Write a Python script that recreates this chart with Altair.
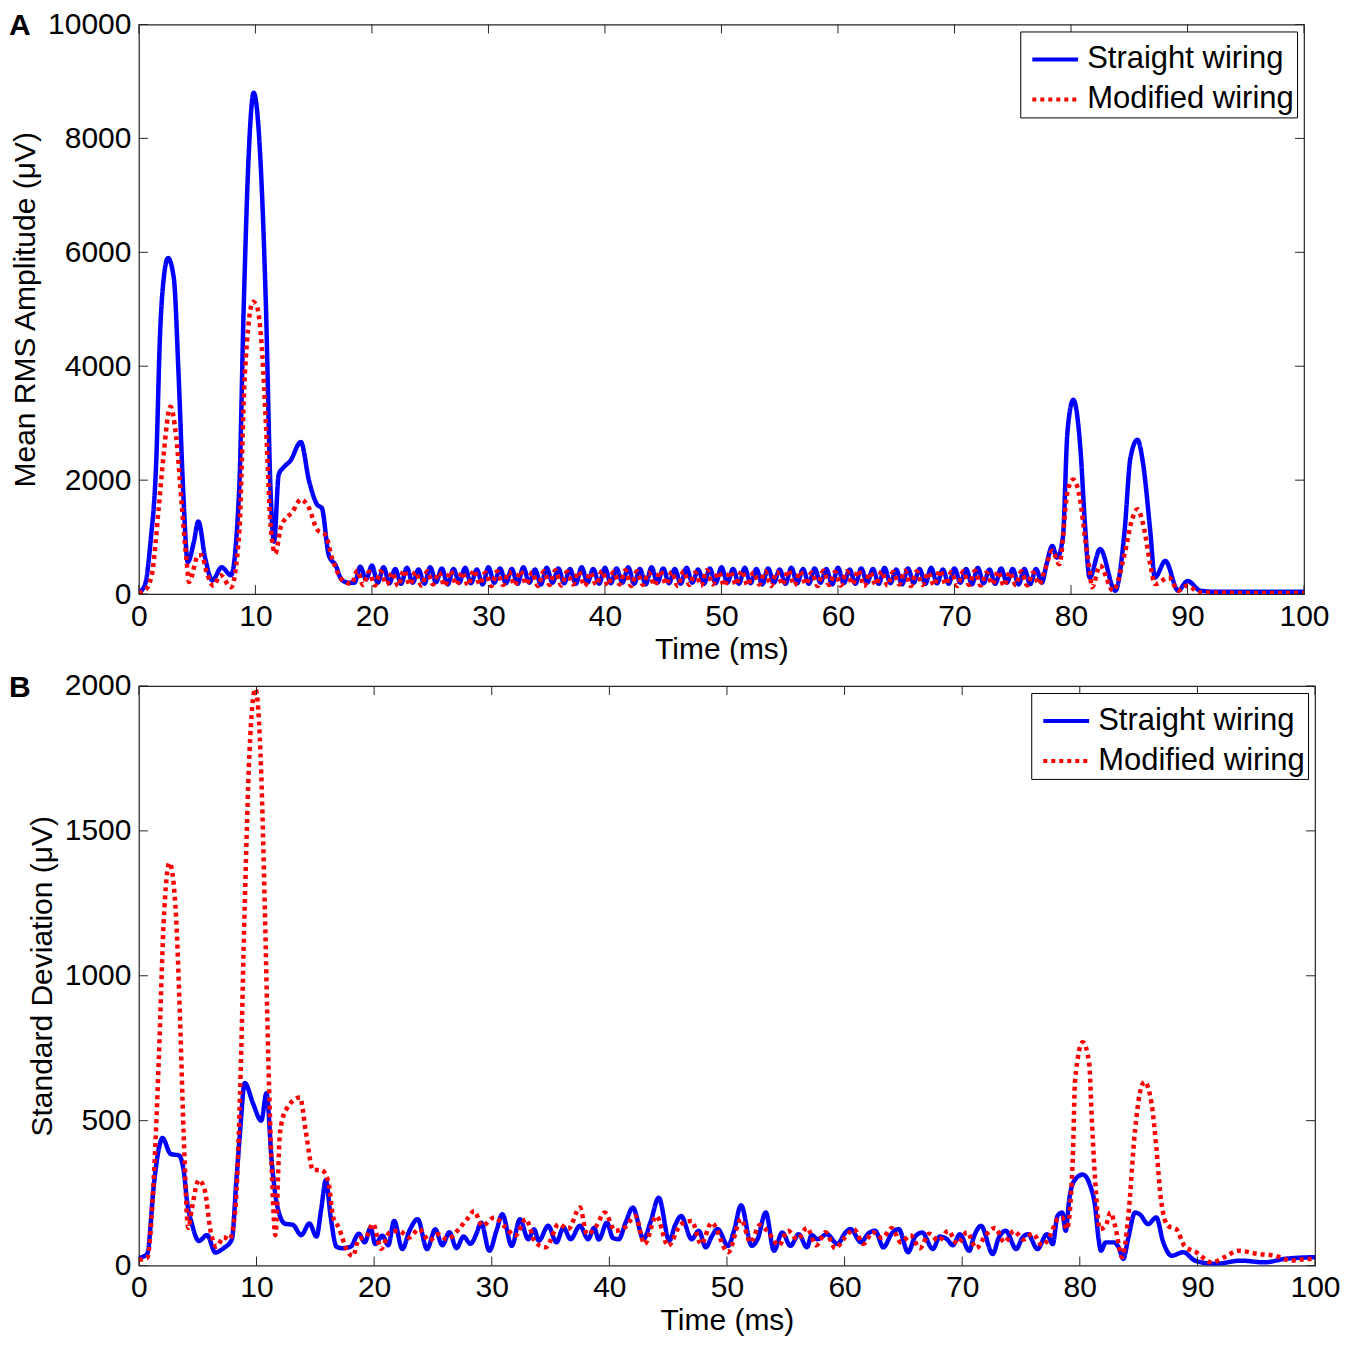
import altair as alt
import pandas as pd

FONT = "Liberation Sans"
BLUE = "#0000ff"
RED = "#ff0000"
AXC = "#262626"
SERIES = ["Straight wiring", "Modified wiring"]

X_TICKS = [0, 10, 20, 30, 40, 50, 60, 70, 80, 90, 100]
A_Y_TICKS = [0, 2000, 4000, 6000, 8000, 10000]
B_Y_TICKS = [0, 500, 1000, 1500, 2000]

# ---------------- Panel A : mean RMS amplitude ----------------
A_BLUE_HEAD_T = [0, 0.5, 1.0, 1.5, 1.8, 2.2, 2.5, 3.0, 3.4, 3.8, 4.2, 4.7, 5.1, 5.7, 6.3, 7.1, 7.9,
                 8.6, 9.0, 9.4, 9.85, 10.4, 10.9, 11.3, 11.6, 12.0, 12.4, 13.0, 13.9, 14.6, 15.3,
                 15.7, 16.3, 16.9, 17.4, 18.0]
A_BLUE_HEAD_V = [30, 150, 920, 2400, 4480, 5660, 5900, 5540, 3880, 1810, 560, 900, 1275, 620, 240,
                 470, 330, 1800, 5070, 7600, 8800, 7740, 5070, 1810, 920, 2100, 2220, 2340, 2670,
                 1990, 1570, 1510, 680, 500, 250, 200]
# 18.5 ms .. 77.5 ms, every 0.5 ms
A_BLUE_OSC = [200, 480, 260, 500, 200, 470, 190, 440, 180, 460, 200, 430, 180, 470, 210, 450,
              170, 440, 200, 460, 190, 430, 170, 470, 200, 450, 190, 440, 180, 470, 200, 430,
              170, 460, 200, 450, 190, 440, 180, 470, 200, 440, 180, 460, 190, 450, 200, 470,
              180, 440, 170, 470, 200, 450, 190, 440, 180, 460, 200, 430, 180, 450, 190, 470,
              200, 440, 180, 460, 190, 440, 170, 450, 200, 430, 180, 460, 190, 440, 180, 450,
              200, 440, 170, 460, 190, 430, 180, 450, 200, 440, 180, 460, 190, 430, 170, 450,
              200, 440, 180, 460, 190, 430, 180, 450, 200, 440, 170, 460, 190, 430, 180, 450,
              200, 440, 170, 440, 175, 440, 200]
A_BLUE_TAIL_T = [77.9, 78.4, 78.8, 79.3, 79.7, 80.2, 80.8, 81.2, 81.6, 82.5, 83.8, 84.6, 85.1,
                 85.7, 86.2, 86.8, 87.2, 88.1, 89.2, 90.0, 91.1, 92.5, 95.0, 100.0]
A_BLUE_TAIL_V = [525, 845, 640, 990, 2860, 3410, 2570, 1220, 290, 790, 60, 1110, 2390, 2710,
                 2270, 1110, 290, 580, 60, 230, 60, 40, 40, 40]

A_RED_HEAD_T = [0, 0.5, 1.1, 1.7, 2.1, 2.7, 3.2, 3.7, 4.1, 4.3, 5.1, 5.4, 5.8, 6.4, 7.0, 7.9, 8.6,
                9.1, 9.8, 10.1, 10.6, 10.9, 11.3, 11.7, 12.2, 13.2, 13.9, 14.6, 15.3, 16.0, 16.6,
                17.5, 18.25]
A_RED_HEAD_V = [20, 60, 330, 1510, 2400, 3290, 2760, 1510, 560, 210, 680, 680, 390, 150, 330,
                120, 1040, 3880, 5130, 5070, 4180, 2990, 1220, 710, 1190, 1450, 1660, 1510, 1130,
                1040, 620, 240, 180]
# 18.75 ms .. 77.25 ms, every 0.5 ms
A_RED_OSC = [410, 160, 390, 150, 400, 170, 380, 140, 420, 160, 390, 150, 400, 170, 380, 140,
             410, 160, 390, 150, 420, 170, 380, 140, 400, 160, 390, 150, 410, 170, 380, 140,
             400, 160, 420, 150, 390, 170, 400, 140, 380, 160, 410, 150, 390, 170, 420, 140,
             400, 160, 380, 150, 410, 170, 390, 140, 400, 160, 380, 150, 420, 170, 390, 140,
             400, 160, 410, 150, 380, 170, 400, 140, 390, 160, 420, 150, 400, 170, 380, 140,
             410, 160, 390, 150, 400, 170, 420, 140, 380, 160, 400, 150, 390, 170, 410, 140,
             400, 160, 380, 150, 420, 170, 390, 140, 400, 160, 410, 150, 380, 170, 400, 140,
             390, 160, 400, 150, 380, 170]
A_RED_TAIL_T = [77.75, 78.4, 79.0, 79.7, 80.2, 80.8, 81.2, 81.6, 81.8, 82.5, 83.6, 84.6, 85.2,
                85.7, 86.2, 86.8, 87.2, 88.4, 89.2, 90.0, 91.0, 95.0, 100.0]
A_RED_TAIL_V = [420, 760, 525, 1800, 2010, 1630, 990, 410, 120, 500, 60, 700, 1280, 1490, 1220,
                525, 175, 290, 60, 150, 30, 20, 20]

# ---------------- Panel B : standard deviation ----------------
B_BLUE_T = [0, 0.7, 1.3, 1.7, 2.0, 2.7, 3.4, 3.8, 4.1, 4.5, 5.1, 5.8, 6.5, 7.2, 7.9, 8.3, 8.6,
            9.0, 9.7, 10.4, 10.85, 11.3, 11.7, 12.4, 13.1, 13.8, 14.5, 15.1, 15.5, 15.9, 16.3,
            16.8, 17.3, 18.0, 18.7, 19.2, 19.7, 20.1, 20.7, 21.2, 21.7, 22.4, 23.0, 23.7, 24.5,
            25.2, 25.8, 26.4, 27.0, 27.6, 28.2, 28.7, 29.1, 29.8, 30.4, 30.9, 31.7, 32.4, 33.1,
            33.6, 34.0, 34.8, 35.5, 36.1, 36.7, 37.5, 38.2, 38.7, 39.1, 39.8, 40.3, 40.8, 41.4,
            42.0, 42.9, 43.5, 44.2, 45.1, 45.6, 46.1, 47.0, 47.6, 48.2, 48.7, 49.2, 50.1, 50.6,
            51.2, 52.1, 52.6, 53.3, 54.0, 54.7, 55.4, 56.1, 56.8, 57.2, 57.7, 58.5, 59.4, 60.0,
            60.5, 61.4, 62.0, 62.6, 63.3, 64.0, 64.6, 65.4, 66.0, 66.6, 67.5, 68.1, 68.7, 69.2,
            69.8, 70.6, 71.0, 71.6, 72.6, 73.1, 73.7, 74.6, 75.1, 75.6, 76.4, 77.2, 77.7, 78.1,
            78.5, 78.8, 79.1, 79.5, 80.25, 80.9, 81.3, 81.6, 81.8, 82.2, 82.9, 83.3, 83.7, 84.1,
            84.7, 85.1, 85.8, 86.5, 87.1, 87.8, 88.8, 89.8, 91.5, 93.7, 95.7, 97.4, 100.0]
B_BLUE_V = [26, 40, 290, 405, 440, 385, 380, 330, 220, 145, 85, 105, 45, 60, 90, 300, 460,
            630, 560, 500, 595, 355, 220, 145, 140, 105, 145, 100, 195, 295, 170,
            65, 60, 65, 110, 80, 130, 74, 103, 70, 154, 57, 120, 160, 57,
            125, 70, 115, 60, 100, 75, 110, 148, 51, 120, 177, 68, 160, 91,
            125, 86, 137, 80, 131, 91, 137, 91, 130, 90, 148, 95, 91, 150,
            200, 91, 150, 234, 86, 140, 171, 91, 120, 63, 100, 126, 68, 120,
            208, 68, 91, 183, 51, 114, 68, 108, 63, 105, 91, 108, 74, 110,
            126, 80, 110, 120, 63, 110, 126, 46, 100, 114, 57, 100, 91, 70,
            108, 51, 100, 137, 40, 95, 120, 57, 95, 108, 57, 108, 74, 171,
            183, 120, 228, 291, 314, 274, 205, 91, 51, 80, 80, 63, 23, 91,
            183, 177, 143, 166, 80, 34, 46, 17, 6, 17, 11, 23, 29]

B_RED_T = [0, 0.7, 1.3, 1.7, 2.1, 2.6, 3.1, 3.5, 3.8, 4.2, 4.5, 5.1, 5.6, 6.1, 6.6, 7.2, 7.7,
           8.2, 8.6, 9.0, 9.4, 9.9, 10.4, 10.7, 11.0, 11.3, 11.6, 12.0, 12.5, 13.7, 14.2, 14.8,
           15.5, 16.1, 16.5, 17.0, 17.7, 18.2, 18.7, 19.3, 19.9, 20.6, 21.3, 22.1, 23.0, 23.8,
           24.7, 25.4, 26.2, 27.2, 27.9, 28.5, 29.2, 30.2, 31.2, 32.0, 32.9, 33.7, 34.6, 35.7,
           36.5, 37.5, 38.1, 38.9, 39.6, 40.5, 41.3, 42.2, 43.0, 44.0, 45.0, 46.1, 47.0, 47.8,
           48.7, 50.1, 51.2, 52.0, 52.8, 53.6, 54.4, 55.2, 56.0, 56.8, 57.6, 58.4, 59.2, 60.0,
           60.8, 61.6, 62.4, 63.2, 64.0, 64.8, 65.6, 66.4, 67.2, 68.0, 68.8, 69.6, 70.4, 71.2,
           72.0, 72.8, 73.6, 74.4, 75.2, 76.0, 76.8, 77.5, 78.1, 78.5, 78.9, 79.4, 79.6, 80.25,
           80.8, 81.0, 81.3, 81.7, 82.2, 82.6, 83.0, 83.6, 84.1, 84.7, 85.1, 85.5, 86.1, 86.5,
           86.9, 87.5, 88.2, 88.9, 89.9, 91.2, 92.3, 93.5, 95.2, 96.6, 98.0, 99.4, 100.0]
B_RED_V = [20, 26, 330, 720, 1180, 1390, 1245, 850, 460, 130, 196, 295, 260, 118, 65, 98, 90,
           196, 590, 1245, 1770, 1990, 1700, 1245, 720, 330, 105, 460, 537, 580, 460, 330,
           330, 290, 170, 130, 52, 33, 92, 98, 144, 57, 114, 120, 97, 126,
           86, 108, 91, 126, 160, 188, 137, 166, 131, 103, 160, 80, 63, 143,
           126, 200, 108, 137, 183, 120, 131, 171, 74, 171, 68, 143, 154, 74,
           148, 46, 160, 80, 140, 110, 70, 120, 90, 130, 70, 115, 60, 95,
           125, 75, 115, 95, 130, 80, 105, 60, 110, 85, 120, 75, 115, 60,
           105, 130, 80, 120, 90, 110, 70, 105, 160, 166, 126, 365, 640, 771,
           697, 525, 297, 126, 137, 183, 137, 29, 160, 468, 594, 634, 560, 411,
           228, 137, 126, 68, 46, 11, 29, 51, 40, 34, 17, 23, 23]


def frame(t, v, name):
    return pd.DataFrame({"t": t, "v": v, "series": name})


a_blue = frame(A_BLUE_HEAD_T + [18.5 + 0.5 * i for i in range(len(A_BLUE_OSC))] + A_BLUE_TAIL_T,
               A_BLUE_HEAD_V + A_BLUE_OSC + A_BLUE_TAIL_V, SERIES[0])
a_red = frame(A_RED_HEAD_T + [18.75 + 0.5 * i for i in range(len(A_RED_OSC))] + A_RED_TAIL_T,
              A_RED_HEAD_V + A_RED_OSC + A_RED_TAIL_V, SERIES[1])
b_blue = frame(B_BLUE_T, B_BLUE_V, SERIES[0])
b_red = frame(B_RED_T, B_RED_V, SERIES[1])

FS = 30
TICK = 9


def panel(blue_df, red_df, yticks, ymax, ytitle, letter, W, H):
    xs = alt.Scale(domain=[0, 100], nice=False, zero=False)
    ys = alt.Scale(domain=[0, ymax], nice=False)
    legend = alt.Legend(title=None, orient="top-right", offset=7, symbolType="stroke",
                        symbolSize=2100, symbolStrokeWidth=4, labelFontSize=31, labelFont=FONT,
                        labelColor="black", strokeColor="black", fillColor="white", padding=3,
                        rowPadding=0, symbolOffset=7, labelOffset=7, labelLimit=500,
                        cornerRadius=0, labelExpr="datum.label + ' '")
    xaxis = alt.Axis(values=X_TICKS, ticks=False, domain=False, grid=False,
                     labelFontSize=FS, labelFont=FONT, labelColor="black",
                     labelPadding=7, labelFlush=False, format="d",
                     title="Time (ms)", titleFontSize=FS, titleFont=FONT,
                     titleFontWeight="normal", titleColor="black", titlePadding=3)
    yaxis = alt.Axis(values=yticks, ticks=False, domain=False, grid=False,
                     labelFontSize=FS, labelFont=FONT, labelColor="black",
                     labelPadding=8, labelFlush=False, format="d",
                     title=ytitle, titleFontSize=FS, titleFont=FONT,
                     titleFontWeight="normal", titleColor="black", titlePadding=7)
    enc = dict(
        x=alt.X("t:Q", scale=xs, axis=xaxis),
        y=alt.Y("v:Q", scale=ys, axis=yaxis),
        color=alt.Color("series:N", scale=alt.Scale(domain=SERIES, range=[BLUE, RED]),
                        legend=legend),
        strokeDash=alt.StrokeDash("series:N",
                                  scale=alt.Scale(domain=SERIES, range=[[1, 0], [4, 4]]),
                                  legend=legend),
    )
    blue = alt.Chart(blue_df).mark_line(strokeWidth=4.5, interpolate="monotone",
                                        clip=True).encode(**enc)
    red = alt.Chart(red_df).mark_line(strokeWidth=4.5, interpolate="monotone", clip=True,
                                      strokeCap="butt").encode(**enc)

    xt = pd.DataFrame({"t": X_TICKS})
    yt = pd.DataFrame({"v": yticks})
    xb = alt.Chart(xt).mark_rule(color=AXC, strokeWidth=1).encode(
        x=alt.X("t:Q", scale=xs, axis=xaxis), y=alt.value(H), y2=alt.value(H - TICK))
    xtop = alt.Chart(xt).mark_rule(color=AXC, strokeWidth=1).encode(
        x=alt.X("t:Q", scale=xs, axis=xaxis), y=alt.value(0), y2=alt.value(TICK))
    yl = alt.Chart(yt).mark_rule(color=AXC, strokeWidth=1).encode(
        y=alt.Y("v:Q", scale=ys, axis=yaxis), x=alt.value(0), x2=alt.value(TICK))
    yr = alt.Chart(yt).mark_rule(color=AXC, strokeWidth=1).encode(
        y=alt.Y("v:Q", scale=ys, axis=yaxis), x=alt.value(W), x2=alt.value(W - TICK))
    lab = alt.Chart(pd.DataFrame({"lab": [letter]})).mark_text(
        align="left", baseline="middle", fontSize=FS, fontWeight="bold", font=FONT,
        color="black").encode(text="lab:N", x=alt.value(-130), y=alt.value(2))
    return alt.layer(blue, red, xb, xtop, yl, yr, lab).properties(width=W, height=H)


pa = panel(a_blue, a_red, A_Y_TICKS, 10000, "Mean RMS Amplitude (\u03bcV)", "A", 1166, 570)
pb = panel(b_blue, b_red, B_Y_TICKS, 2000, "Standard Deviation (\u03bcV)", "B", 1177, 580)

chart = alt.vconcat(pa, pb, spacing=5).resolve_scale(
    x="independent", y="independent", color="independent", strokeDash="independent"
).resolve_legend(color="independent", strokeDash="independent").properties(
    padding={"left": 0, "top": 0, "right": 1, "bottom": 2}, background="white"
).configure_view(stroke=AXC, strokeWidth=1.2)

chart.save("out.html", embed_options={"renderer": "svg", "actions": False})
